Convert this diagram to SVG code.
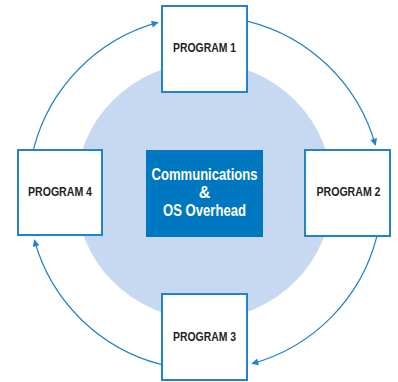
<svg xmlns="http://www.w3.org/2000/svg" width="398" height="382" viewBox="0 0 398 382">
  <style>
    .prog rect { fill: #ffffff; stroke: #2283CB; stroke-width: 2; }
    .prog text { font-family: "Liberation Sans", Arial, sans-serif; font-weight: bold; font-size: 12.5px; fill: #231F20; text-anchor: middle; }
    .core text { font-family: "Liberation Sans", Arial, sans-serif; font-weight: bold; font-size: 16px; fill: #ffffff; text-anchor: middle; }
    .conn path { fill: none; stroke: #2283CB; stroke-width: 1.2; }
  </style>
  <defs>
    <marker id="arrow" viewBox="0 0 10 10" refX="9" refY="5" markerWidth="8" markerHeight="7" markerUnits="userSpaceOnUse" orient="auto">
      <path d="M0,0 L10,5 L0,10 Z" fill="#2283CB"/>
    </marker>
  </defs>

  <rect width="398" height="382" fill="#ffffff"/>

  <!-- shared resource disc behind the core box -->
  <circle id="disc" cx="204" cy="191" r="128.5" fill="#C6D9F0"/>

  <!-- round-robin connectors -->
  <g id="connectors" class="conn">
    <path d="M248,21.3 A177,177 0 0 1 375.4,145" marker-end="url(#arrow)"/>
    <path d="M376.7,237 A177,177 0 0 1 252,363.6" marker-end="url(#arrow)"/>
    <path d="M161,364.4 A177,177 0 0 1 34.4,240" marker-end="url(#arrow)"/>
    <path d="M33.6,149 A177,177 0 0 1 158,22.4" marker-end="url(#arrow)"/>
  </g>

  <g id="core" class="core">
    <rect x="146" y="150" width="117" height="87" fill="#0078C1"/>
    <text x="204.5" y="179.5" textLength="106" lengthAdjust="spacingAndGlyphs">Communications</text>
    <text x="204.5" y="197.5">&amp;</text>
    <text x="204.5" y="216" textLength="83" lengthAdjust="spacingAndGlyphs">OS Overhead</text>
  </g>

  <g id="program1" class="prog">
    <rect x="162" y="6" width="85" height="86"/>
    <text x="204.5" y="52" textLength="63" lengthAdjust="spacingAndGlyphs">PROGRAM 1</text>
  </g>

  <g id="program2" class="prog">
    <rect x="305" y="150" width="85" height="86"/>
    <text x="348.5" y="196" textLength="64" lengthAdjust="spacingAndGlyphs">PROGRAM 2</text>
  </g>

  <g id="program3" class="prog">
    <rect x="162" y="294" width="85" height="86"/>
    <text x="204.5" y="341" textLength="63" lengthAdjust="spacingAndGlyphs">PROGRAM 3</text>
  </g>

  <g id="program4" class="prog">
    <rect x="18" y="150" width="84" height="85"/>
    <text x="60" y="196" textLength="64" lengthAdjust="spacingAndGlyphs">PROGRAM 4</text>
  </g>
</svg>
